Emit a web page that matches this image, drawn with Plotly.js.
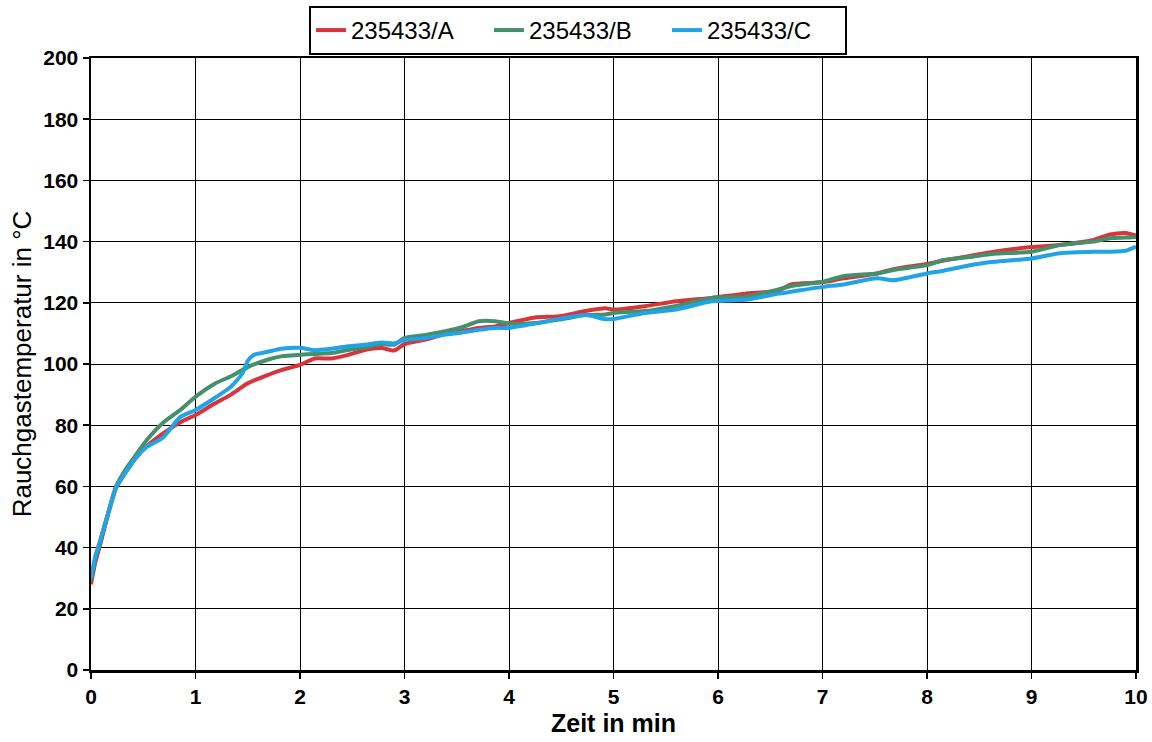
<!DOCTYPE html>
<html>
<head>
<meta charset="utf-8">
<script src="https://cdn.plot.ly/plotly-3.0.1.min.js"></script>
<style>html,body{margin:0;padding:0;background:#fff;}#chart{width:1152px;height:742px;}</style>
</head>
<body>
<div id="chart"></div>
<script>
// Time (min)
const timeA = [0, 0.04, 0.08, 0.145, 0.24, 0.34, 0.435, 0.53, 0.69, 0.855, 1.0, 1.18, 1.34, 1.5, 1.69, 1.82, 2.0, 2.14, 2.3, 2.46, 2.62, 2.78, 2.9, 3.0, 3.2, 3.39, 3.55, 3.71, 3.87, 4.0, 4.25, 4.48, 4.73, 4.92, 5.0, 5.3, 5.6, 5.94, 6.26, 6.58, 6.7, 7.0, 7.2, 7.52, 7.68, 8.0, 8.16, 8.41, 8.64, 9.0, 9.27, 9.59, 9.75, 9.9, 10.0];
const tempA = [28, 35, 40, 48.5, 59.5, 65, 69.5, 73, 77.3, 81, 83.3, 87, 90, 93.7, 96.4, 98, 99.7, 101.8, 101.8, 103, 104.6, 105.2, 104.4, 106.5, 108, 109.8, 110.8, 111.8, 112.3, 113.4, 115.2, 115.6, 117.3, 118.2, 117.8, 118.9, 120.5, 121.6, 123, 124, 126, 126.7, 128, 129.6, 131, 132.7, 133.8, 135.3, 136.7, 138.2, 138.9, 140.5, 142.3, 142.8, 142];

const timeB = [0, 0.04, 0.08, 0.145, 0.24, 0.34, 0.435, 0.53, 0.69, 0.855, 1.0, 1.18, 1.34, 1.5, 1.69, 1.82, 2.0, 2.14, 2.3, 2.46, 2.62, 2.78, 2.9, 3.0, 3.2, 3.39, 3.55, 3.71, 3.87, 4.0, 4.25, 4.48, 4.73, 4.92, 5.0, 5.3, 5.6, 5.94, 6.26, 6.58, 6.7, 7.0, 7.2, 7.52, 7.68, 8.0, 8.16, 8.41, 8.64, 9.0, 9.27, 9.59, 9.75, 9.9, 10.0];
const tempB = [29, 36, 41, 49, 60, 66, 70.5, 75, 80.8, 85, 89.3, 93.5, 96, 99, 101.4, 102.5, 103, 103.3, 103.6, 104.6, 105.5, 106.5, 106.3, 108.5, 109.5, 110.7, 112, 114, 114, 113.2, 113.4, 114.5, 116, 116.2, 116.7, 117.3, 119, 121.6, 122, 124.4, 125.5, 126.9, 128.7, 129.6, 130.7, 132.3, 134, 135, 136, 136.7, 138.9, 140, 141.1, 141.3, 141.5];

const timeC = [0, 0.04, 0.08, 0.145, 0.24, 0.34, 0.435, 0.53, 0.69, 0.855, 1.0, 1.18, 1.34, 1.45, 1.5, 1.56, 1.69, 1.82, 2.0, 2.14, 2.3, 2.46, 2.62, 2.78, 2.9, 3.0, 3.2, 3.39, 3.55, 3.71, 3.87, 4.0, 4.25, 4.48, 4.73, 4.92, 5.0, 5.3, 5.6, 5.94, 6.26, 6.58, 6.7, 7.0, 7.2, 7.52, 7.68, 8.0, 8.16, 8.41, 8.64, 9.0, 9.27, 9.59, 9.75, 9.9, 10.0];
const tempC = [30, 37, 41.5, 49, 59.7, 65, 69.6, 72.8, 76, 82.7, 85, 88.8, 92.6, 97, 101, 103, 104, 105, 105.3, 104.5, 105, 105.8, 106.3, 107, 106.7, 107.8, 108.5, 109.6, 110.3, 111.2, 111.8, 111.8, 113.2, 114.7, 116, 114.7, 114.7, 116.7, 117.8, 120.5, 121, 123, 123.6, 125.2, 126, 128, 127.4, 129.6, 130.5, 132.3, 133.4, 134.5, 136.2, 136.7, 136.7, 137, 138.4];

const seriesNames = ['235433/A', '235433/B', '235433/C'];
const xTicks = [0, 1, 2, 3, 4, 5, 6, 7, 8, 9, 10];
const yTicks = [0, 20, 40, 60, 80, 100, 120, 140, 160, 180, 200];

const colors = ['#d8343c', '#43906a', '#21a3e8'];

const traces = [
  {x: timeA, y: tempA, name: seriesNames[0], mode: 'lines', line: {color: colors[0], width: 4, shape: 'spline', smoothing: 0.6}},
  {x: timeB, y: tempB, name: seriesNames[1], mode: 'lines', line: {color: colors[1], width: 4, shape: 'spline', smoothing: 0.6}},
  {x: timeC, y: tempC, name: seriesNames[2], mode: 'lines', line: {color: colors[2], width: 4, shape: 'spline', smoothing: 0.6}}
];

const FONT = 'Liberation Sans, Arial, sans-serif';
const tickFont = {family: FONT, size: 21, color: '#000', weight: 'bold'};

const layout = {
  width: 1152, height: 742,
  paper_bgcolor: '#fff', plot_bgcolor: '#fff',
  margin: {l: 91, r: 16, t: 58, b: 72, autoexpand: false},
  showlegend: true,
  legend: {
    orientation: 'h', x: 0.466, xanchor: 'center', y: 1.085, yanchor: 'top',
    bordercolor: '#000', borderwidth: 2, bgcolor: '#fff',
    font: {family: FONT, size: 24, color: '#000'},
    itemwidth: 30, entrywidth: 133, entrywidthmode: 'pixels'
  },
  xaxis: {
    range: [0, 10], tickvals: xTicks, ticktext: xTicks.map(String),
    showgrid: true, gridcolor: '#000', gridwidth: 1,
    showline: true, linecolor: '#000', linewidth: 2.5, mirror: true,
    ticks: 'outside', ticklen: 6, tickcolor: '#000', tickwidth: 1.5,
    zeroline: false, tickfont: tickFont,
    title: {text: 'Zeit in min', font: {family: FONT, size: 25, color: '#000', weight: 'bold'}, standoff: 8}
  },
  yaxis: {
    range: [0, 200], tickvals: yTicks, ticktext: yTicks.map(String),
    showgrid: true, gridcolor: '#000', gridwidth: 1,
    showline: true, linecolor: '#000', linewidth: 2.5, mirror: true,
    ticks: 'outside', ticklen: 6, tickcolor: '#000', tickwidth: 1.5,
    zeroline: false, tickfont: tickFont,
    title: {text: 'Rauchgastemperatur in °C', font: {family: FONT, size: 26, color: '#000'}, standoff: 4}
  }
};

Plotly.newPlot('chart', traces, layout, {displayModeBar: false, staticPlot: true});
</script>
</body>
</html>
